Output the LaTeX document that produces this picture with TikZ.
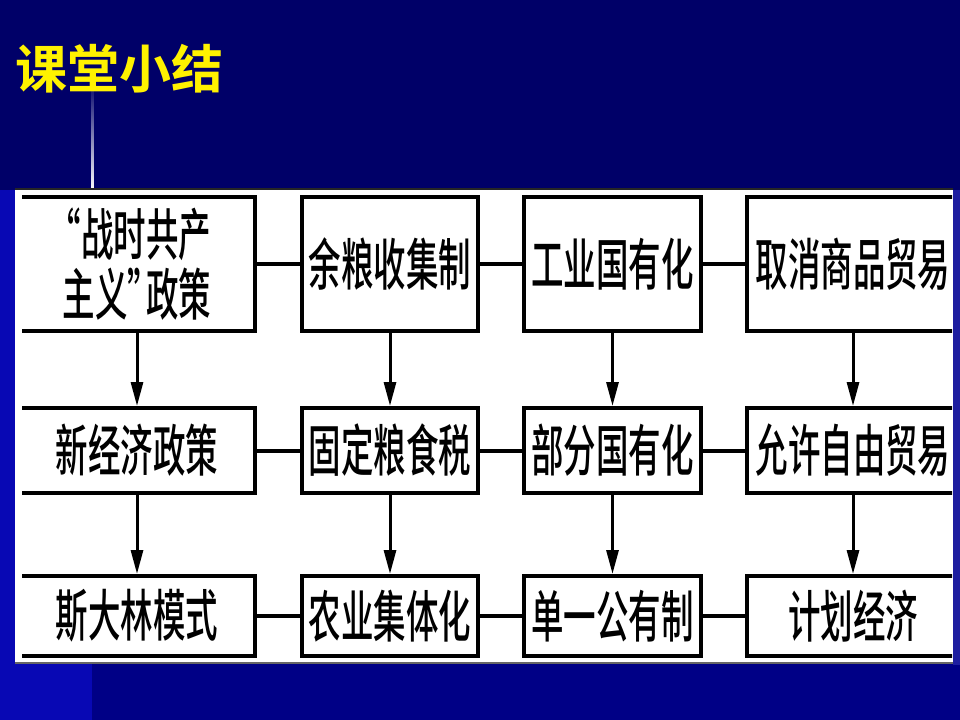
\documentclass[tikz,border=0pt]{standalone}
\usepackage{fontspec}
\usetikzlibrary{arrows.meta}
\newfontfamily\cjk[FakeStretch=0.58]{Noto Sans CJK SC Medium}
\newfontfamily\cjktitle{Noto Sans CJK SC Bold}
\definecolor{slidenavy}{RGB}{0,0,104}
\definecolor{slidedeep}{RGB}{0,0,134}
\definecolor{slidebright}{RGB}{8,8,180}
\definecolor{slideedge}{RGB}{30,30,160}
\definecolor{rulelight}{RGB}{40,80,255}

\tikzset{every picture/.style={line width=0.75pt}}
\tikzset{
  stagebox/.style={draw, line width=3pt, fill=white, inner sep=0pt, align=center,
    font=\cjk\fontsize{42}{45}\selectfont},
  link/.style={line width=3pt},
  flow/.style={line width=2.25pt, -{Triangle[length=18pt,width=9pt]}}
}

\begin{document}
\begin{tikzpicture}[x=0.75pt,y=0.75pt,yscale=-1,xscale=1]
\useasboundingbox (0,0) rectangle (960,720);

%Shape: Rectangle [background]
\fill [slidenavy] (0,0) rectangle (960,720);
\fill [slidedeep] (92,662) rectangle (960,720);
\fill [slidebright] (0,190) rectangle (92,720);
\fill [slideedge] (953,190) rectangle (960,665);
%Straight Lines [thin rule]
\shade [top color=slidenavy, middle color=rulelight, bottom color=white] (91,80) rectangle (93.5,191);
%Shape: Rectangle [panel]
\fill [white] (15,190) rectangle (953,662);
\draw [black!85, line width=2] (15,189) -- (953,189);
\draw [black!60, line width=1.5] (15,663) -- (953,663);

% Text Node
\node [text=yellow, font=\cjktitle\fontsize{39}{42}\selectfont] (title) at (120,69) {课堂小结};

\begin{scope}
\clip (22,186) rectangle (952,666);
%Shape: Rectangle [row 1]
\node [stagebox, minimum width=177pt, minimum height=100.5pt] (war) at (137,264) {\kern-0.25em“战时共产\\主义”\kern-0.25em政策};
\node [stagebox, minimum width=132pt, minimum height=100.5pt] (grain) at (390,264) {余粮收集制};
\node [stagebox, minimum width=132.75pt, minimum height=100.5pt] (industry) at (612.5,264) {工业国有化};
\node [stagebox, minimum width=159pt, minimum height=100.5pt] (trade) at (853,264) {取消商品贸易};
%Shape: Rectangle [row 2]
\node [stagebox, minimum width=177pt, minimum height=63.75pt] (nep) at (137,450.5) {新经济政策};
\node [stagebox, minimum width=132pt, minimum height=63.75pt] (tax) at (390,450.5) {固定粮食税};
\node [stagebox, minimum width=132.75pt, minimum height=63.75pt] (partial) at (612.5,450.5) {部分国有化};
\node [stagebox, minimum width=159pt, minimum height=63.75pt] (freetrade) at (853,450.5) {允许自由贸易};
%Shape: Rectangle [row 3]
\node [stagebox, minimum width=177pt, minimum height=60pt] (stalin) at (137,616) {斯大林模式};
\node [stagebox, minimum width=132pt, minimum height=60pt] (collective) at (390,616) {农业集体化};
\node [stagebox, minimum width=132.75pt, minimum height=60pt] (public) at (612.5,616) {单一公有制};
\node [stagebox, minimum width=159pt, minimum height=60pt] (plan) at (853,616) {计划经济};

%Straight Lines [links]
\draw [link] (war) -- (grain);
\draw [link] (grain) -- (industry);
\draw [link] (industry) -- (trade);
\draw [link] (nep) -- (tax);
\draw [link] (tax) -- (partial);
\draw [link] (partial) -- (freetrade);
\draw [link] (stalin) -- (collective);
\draw [link] (collective) -- (public);
\draw [link] (public) -- (plan);

%Straight Lines [arrows]
\draw [flow] (war) -- (nep);
\draw [flow] (nep) -- (stalin);
\draw [flow] (grain) -- (tax);
\draw [flow] (tax) -- (collective);
\draw [flow] (industry) -- (partial);
\draw [flow] (partial) -- (public);
\draw [flow] (trade) -- (freetrade);
\draw [flow] (freetrade) -- (plan);
\end{scope}

\end{tikzpicture}
\end{document}
